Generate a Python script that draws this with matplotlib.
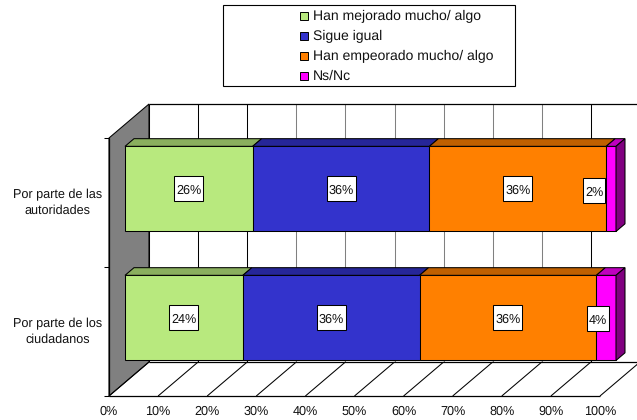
import matplotlib
matplotlib.use("Agg")
import matplotlib.pyplot as plt
from matplotlib.patches import Polygon, Rectangle

plt.rcParams['font.family'] = ['Liberation Sans', 'DejaVu Sans']
plt.rcParams['text.hinting'] = 'none'

categorias = ["Por parte de los\nciudadanos", "Por parte de las\nautoridades"]
series = ["Han mejorado mucho/ algo", "Sigue igual", "Han empeorado mucho/ algo", "Ns/Nc"]
mejorado = [24, 26]
igual = [36, 36]
empeorado = [36, 36]
nsnc = [4, 2]
colores = ["#B8E97E", "#3333CC", "#FF8000", "#FF00FF"]
techos = ["#8AAF5E", "#262699", "#BF6000", "#BF00BF"]
lateral = "#800080"
ticks = [0, 10, 20, 30, 40, 50, 60, 70, 80, 90, 100]

W, H = 637, 420
fig = plt.figure(figsize=(W / 100, H / 100), dpi=100)
# 0-100 va de 109 a 600 px, y de 0-2 va de 396 a 138 px
px = 491 / 100
py = 258 / 2
ax = fig.add_axes([109 / W, (H - 396) / H, 491 / W, 258 / H])
ax.set_xlim(0, 100)
ax.set_ylim(0, 2)
ax.axis("off")

dx = 40 / px
dy = 34 / py
alto = 0.66
prof = 0.225
desp = 0.4


def poly(puntos, fc, ec="black", lw=0.75, z=1):
    ax.add_patch(Polygon(puntos, closed=True, fc=fc, ec=ec, lw=lw, zorder=z, clip_on=False))


def linea(xs, ys, color="black", lw=0.75, z=2):
    ax.plot(xs, ys, color=color, lw=lw, zorder=z, clip_on=False, solid_capstyle="butt")


# pared lateral
poly([(0, 0), (dx, dy), (dx, 2 + dy), (0, 2)], "#808080")

# rejilla del fondo y del suelo
for t in ticks:
    gris = "#808080" if t in (30, 40, 50, 60, 70, 80) else "black"
    linea([t + dx, t + dx], [dy, 2 + dy], color=gris)
    linea([t, t + dx], [0, dy])
linea([0, 100], [0, 0], lw=0.9)
linea([dx, 109], [dy, dy], lw=0.9)
linea([dx, 109], [2 + dy, 2 + dy], lw=0.9)

# marcas de los ejes
for y in [0, 1, 2]:
    linea([-1, 0], [y, y])
linea([0, 0], [0, 2], lw=0.9)
for t in ticks:
    ax.annotate(f"{t}%", (t, 0), xytext=(0, -7), textcoords="offset points",
                ha="center", va="top", fontsize=9.1, color="#111111", annotation_clip=False)
for i, c in enumerate(categorias):
    ax.annotate(c, (0, i + 0.5), xytext=(-37, 0), textcoords="offset points",
                ha="center", va="center", fontsize=9.1, color="#111111",
                linespacing=1.4, annotation_clip=False)

# barras apiladas
datos = [mejorado, igual, empeorado, nsnc]
for i in range(len(categorias)):
    izq = 0
    y0 = i + 0.5 + desp * dy - alto / 2
    y1 = y0 + alto
    x_off = desp * dx
    for s in range(len(datos)):
        v = datos[s][i]
        a = izq + x_off
        b = a + v
        poly([(a, y0), (b, y0), (b, y1), (a, y1)], colores[s], z=5)
        poly([(a, y1), (b, y1), (b + prof * dx, y1 + prof * dy), (a + prof * dx, y1 + prof * dy)],
             techos[s], z=5)
        if s == len(datos) - 1:
            poly([(b, y0), (b + prof * dx, y0 + prof * dy),
                  (b + prof * dx, y1 + prof * dy), (b, y1)], lateral, z=5)
        # las etiquetas de Ns/Nc se corren a la izquierda (en px)
        cx = a + v / 2
        cy = (y0 + y1) / 2
        if s == len(datos) - 1:
            if v == 2:
                cx = cx - 17 / px
                cy = cy - 2 / py
            else:
                cx = cx - 8 / px
                cy = cy - 1 / py
        ancho = (29 if v >= 10 else 22) / px
        caja = 25 / py
        ax.add_patch(Rectangle((cx - ancho / 2, cy - caja / 2), ancho, caja, fc="white", ec="black",
                               lw=0.75, zorder=8, clip_on=False))
        ax.annotate(f"{v}%", (cx, cy), xytext=(0, -1), textcoords="offset points",
                    ha="center", va="center", fontsize=9.1, color="#111111", zorder=9,
                    annotation_clip=False)
        izq = izq + v

# leyenda
fig.add_artist(Rectangle((223 / W, (H - 86) / H), 292 / W, 81 / H, transform=fig.transFigure,
                         fc="white", ec="black", lw=0.8))
for s, nombre in enumerate(series):
    y = 16 + s * 20
    fig.add_artist(Rectangle((299.5 / W, (H - y - 4) / H), 8 / W, 8 / H, transform=fig.transFigure,
                             fc=colores[s], ec="black", lw=0.7))
    fig.text(313 / W, (H - y) / H, nombre, fontsize=10.1, va="center", ha="left", color="#111111")

fig.savefig("out.png", dpi=100)
